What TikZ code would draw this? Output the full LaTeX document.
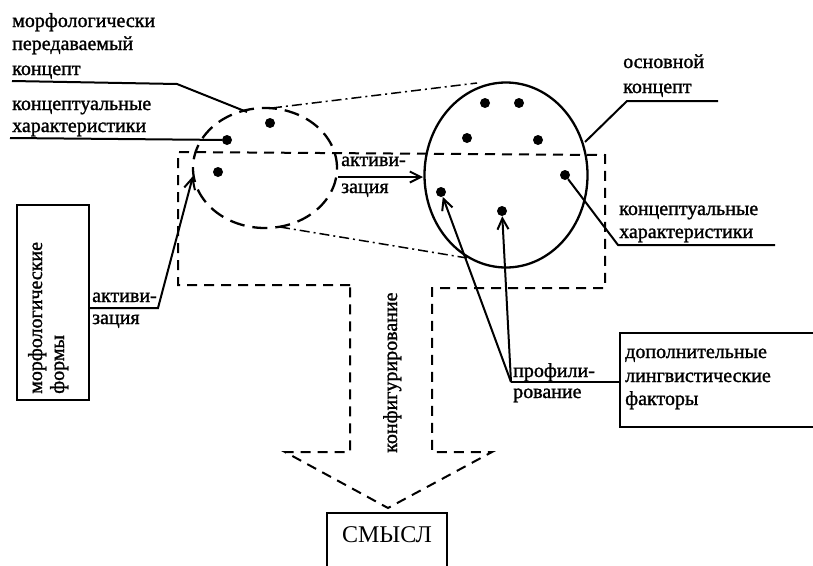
\documentclass[tikz,border=0pt]{standalone}
\usepackage{fontspec}
\setmainfont{Liberation Serif}[BoldFont=Liberation Serif,BoldFeatures={FakeBold=1.3}]
\usetikzlibrary{arrows.meta,shapes.geometric}
\begin{document}
\begin{tikzpicture}[x=1pt,y=-1pt,
  lbl/.style={anchor=base west, inner sep=0pt, font=\fontsize{20}{24}\selectfont\bfseries},
  vlbl/.style={lbl, rotate=90},
  ln/.style={line width=2pt},
  arr/.style={ln,-{Straight Barb[length=11pt,width=11pt]}},
  dot/.style={circle,fill,inner sep=0pt,minimum size=10pt},
  dsh/.style={line width=2pt,dash pattern=on 10pt off 7pt},
  edsh/.style={line width=2.3pt,dash pattern=on 15pt off 8pt},
  dashdot/.style={line width=1.5pt,dash pattern=on 10pt off 4pt on 2pt off 4pt},
  boxst/.style={draw,ln,inner sep=0pt}]
\useasboundingbox (0,0) rectangle (813,565);

% circles
\node[ellipse,draw,edsh,minimum width=144pt,minimum height=120pt,inner sep=0pt] (small) at (265,168) {};
\node[ellipse,draw,line width=2.3pt,minimum width=163pt,minimum height=185pt,inner sep=0pt] (big) at (506,175) {};

% dots
\node[dot] (d1) at (270,123) {};
\node[dot] (d2) at (227,140) {};
\node[dot] (d3) at (218,172) {};
\node[dot] (e1) at (485,103) {};
\node[dot] (e2) at (519,103) {};
\node[dot] (e3) at (467,138) {};
\node[dot] (e4) at (538,140) {};
\node[dot] (e5) at (565,175) {};
\node[dot] (e6) at (441,192) {};
\node[dot] (e7) at (502,211) {};

% dash-dot tangents
\coordinate (t1) at (272,108);
\coordinate (t2) at (477,83);
\coordinate (b1) at (280,227);
\coordinate (b2) at (467,258);
\draw[dashdot] (t1) -- (t2);
\draw[dashdot] (b1) -- (b2);

% dashed frame with block arrow
\draw[dsh] (350,285) -- (178,285) -- (178,152) -- (605,155) -- (605,288) -- (432,288)
  -- (432,452) -- (492,452) -- (388,508) -- (285,452) -- (350,452) -- cycle;

% top-left labels
\node[lbl] (m1) at (12,27) {морфологически};
\node[lbl] (m2) at (12,50) {передаваемый};
\node[lbl] (m3) at (12,75) {концепт};
\node[lbl] (k1) at (12,110) {концептуальные};
\node[lbl] (k2) at (12,132) {характеристики};
\coordinate (l1a) at (12,81);
\coordinate (l1b) at (177,84);
\coordinate (l1c) at (247,112);
\draw[ln] (l1a) -- (l1b) -- (l1c);
\coordinate (l2a) at (10,138);
\draw[ln] (l2a) -- (d2);

% left box
\node[boxst,minimum width=72pt,minimum height=195pt] (mf) at (53,302.5) {};
\node[vlbl] (mf1) at (42,394) {морфологические};
\node[vlbl] (mf2) at (64,394) {формы};
\coordinate (a0) at (89,308);
\coordinate (a1) at (158,308);
\coordinate (a2) at (193,176);
\draw[arr] (a0) -- (a1) -- (a2);
\node[lbl] (act1) at (92,302) {активи-};
\node[lbl] (act2) at (92,324) {зация};

% middle arrow
\coordinate (m0) at (338,177);
\coordinate (m1e) at (423,177);
\draw[arr] (m0) -- (m1e);
\node[lbl] (act3) at (341,166) {активи-};
\node[lbl] (act4) at (341,193) {зация};

% right labels
\node[lbl] (o1) at (623,68) {основной};
\node[lbl] (o2) at (623,93) {концепт};
\coordinate (r0) at (585,142);
\coordinate (r1) at (627,101);
\coordinate (r2) at (718,101);
\draw[ln] (r0) -- (r1) -- (r2);
\node[lbl] (k3) at (619,215) {концептуальные};
\node[lbl] (k4) at (619,238) {характеристики};
\coordinate (s1) at (618,245);
\coordinate (s2) at (775,245);
\draw[ln] (e5) -- (s1) -- (s2);

% profiling
\node[boxst,minimum width=210pt,minimum height=94pt] (dop) at (725,380) {};
\node[lbl] (p1) at (625,358) {дополнительные};
\node[lbl] (p2) at (625,382) {лингвистические};
\node[lbl] (p3) at (625,405) {факторы};
\coordinate (V) at (511,382);
\draw[ln] (V) -- (V -| dop.west);
\draw[arr] (V) -- (e6);
\draw[arr] (V) -- (e7);
\node[lbl] (pr1) at (513,377) {профили-};
\node[lbl] (pr2) at (513,398) {рование};

% configuring
\node[vlbl] (cf) at (397,453) {конфигурирование};

% meaning
\node[boxst,minimum width=120pt,minimum height=72pt] (sm) at (387,549) {};
\node[anchor=base,inner sep=0pt,font=\fontsize{24}{28}\selectfont] (smt) at (387,542) {СМЫСЛ};
\end{tikzpicture}
\end{document}
